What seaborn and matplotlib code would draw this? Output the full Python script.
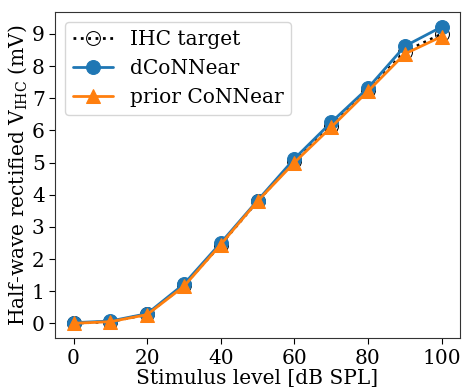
import matplotlib
matplotlib.use("Agg")
import matplotlib.pyplot as plt
import seaborn as sns
import pandas as pd

levels = [0, 10, 20, 30, 40, 50, 60, 70, 80, 90, 100]
ihc_target = [0.0, 0.05, 0.28, 1.18, 2.45, 3.8, 5.05, 6.15, 7.25, 8.45, 9.0]
dconnear = [0.02, 0.07, 0.3, 1.22, 2.5, 3.82, 5.12, 6.25, 7.32, 8.62, 9.22]
prior_connear = [0.0, 0.05, 0.27, 1.15, 2.45, 3.8, 5.0, 6.1, 7.22, 8.38, 8.92]

sns.set_style("ticks")
plt.rcParams['font.family'] = ['DejaVu Serif']
plt.rcParams['mathtext.fontset'] = 'dejavuserif'

FS = 14.5

fig, ax = plt.subplots(figsize=(4.63, 3.9), dpi=100)

df = pd.DataFrame({"level": levels, "ihc": ihc_target, "d": dconnear, "p": prior_connear})

sns.lineplot(data=df, x="level", y="ihc", ax=ax, color="black", linestyle=":",
             marker="o", markersize=10, markerfacecolor="none", markeredgecolor="black",
             linewidth=2, label="IHC target")
sns.lineplot(data=df, x="level", y="d", ax=ax, color="#1f77b4", marker="o",
             markersize=10, markeredgecolor="#1f77b4", linewidth=2, label="dCoNNear")
sns.lineplot(data=df, x="level", y="p", ax=ax, color="#ff7f0e", marker="^",
             markersize=10, markeredgecolor="#ff7f0e", linewidth=2, label="prior CoNNear")

for s in ax.spines.values():
    s.set_visible(True)
    s.set_color("#333333")

ax.set_xticks([0, 20, 40, 60, 80, 100])
ax.set_yticks(range(0, 10))
ax.tick_params(labelsize=FS, direction="out", length=4, colors="black")
ax.set_xlabel("Stimulus level [dB SPL]", fontsize=FS, labelpad=1, color="black")
ax.set_ylabel(r"Half-wave rectified V$_{\mathrm{IHC}}$ (mV)", fontsize=FS, labelpad=2, color="black")
leg = ax.legend(loc="upper left", fontsize=FS)
for t in leg.get_texts():
    t.set_color("black")

fig.subplots_adjust(left=0.119, right=0.9935, top=0.969, bottom=0.133)
fig.savefig("out.png", dpi=100)
